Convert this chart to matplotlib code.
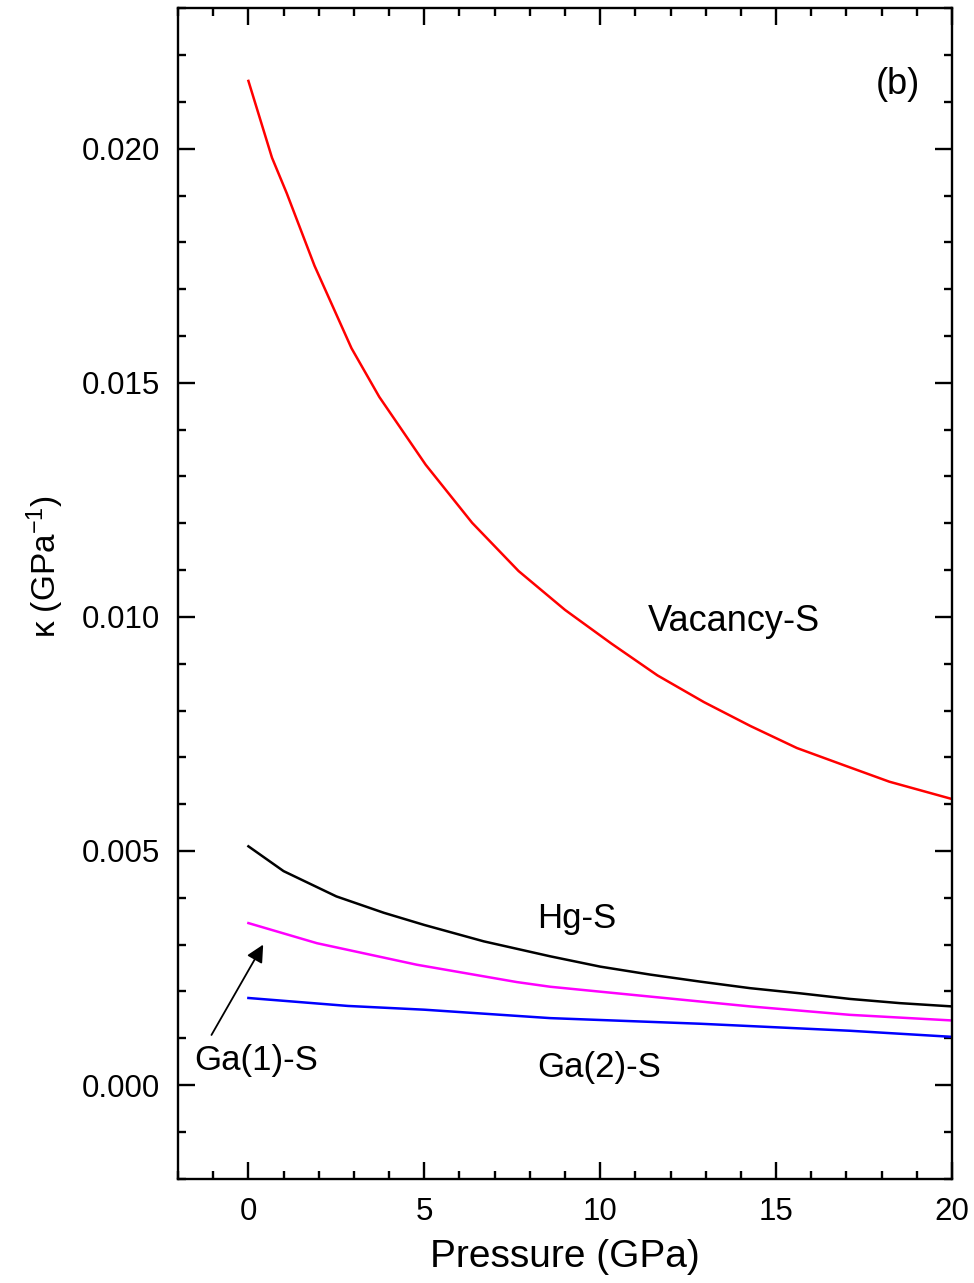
import matplotlib
matplotlib.use("Agg")
import matplotlib.pyplot as plt
from matplotlib.ticker import MultipleLocator, FormatStrFormatter

plt.rcParams['font.family'] = ['Liberation Sans', 'DejaVu Sans']
plt.rcParams['mathtext.fontset'] = 'custom'
plt.rcParams['mathtext.rm'] = 'Liberation Sans'
plt.rcParams['mathtext.it'] = 'Liberation Sans:italic'
plt.rcParams['mathtext.bf'] = 'Liberation Sans:bold'

# Data
p_vac = [0, 0.67, 1.09, 1.88, 2.93, 3.72, 5.04, 6.36, 7.68, 9.0, 10.32, 11.63, 12.95,
         14.27, 15.59, 16.9, 18.22, 20]
k_vac = [0.02145, 0.01981, 0.01905, 0.01750, 0.01574, 0.01470, 0.01325, 0.01201, 0.01098,
         0.01015, 0.00943, 0.00875, 0.00818, 0.00767, 0.00720, 0.00684, 0.00648, 0.00611]

p_hg = [0, 1.0, 2.5, 3.85, 5, 6.69, 8.58, 10, 11.42, 12.84, 14.26, 15.68, 17.1, 18.52, 20]
k_hg = [0.00510, 0.00457, 0.00403, 0.00368, 0.00342, 0.00307, 0.00275, 0.00253,
        0.00236, 0.00221, 0.00207, 0.00196, 0.00184, 0.00175, 0.00168]

p_ga1 = [0, 1.95, 4.79, 7.63, 8.58, 11.42, 14.26, 17.1, 20]
k_ga1 = [0.00346, 0.00303, 0.00257, 0.00220, 0.00210, 0.00189, 0.00168, 0.00150, 0.00138]

p_ga2 = [0, 2.83, 5, 8.58, 12.84, 17.1, 20]
k_ga2 = [0.00186, 0.00169, 0.00161, 0.00143, 0.00131, 0.00116, 0.00103]

fig = plt.figure(figsize=(9.74, 12.83), dpi=100)
ax = fig.add_axes([0.1828, 0.0813, 0.7946, 0.9122])

lw = 1.8
ax.plot(p_vac, k_vac, color='#ff0000', lw=lw)
ax.plot(p_hg, k_hg, color='#000000', lw=lw)
ax.plot(p_ga1, k_ga1, color='#ff00ff', lw=lw)
ax.plot(p_ga2, k_ga2, color='#0000ff', lw=lw)

ax.set_xlim(-2, 20)
ax.set_ylim(-0.002, 0.023)

ax.xaxis.set_major_locator(MultipleLocator(5))
ax.xaxis.set_minor_locator(MultipleLocator(1))
ax.yaxis.set_major_locator(MultipleLocator(0.005))
ax.yaxis.set_minor_locator(MultipleLocator(0.001))
ax.yaxis.set_major_formatter(FormatStrFormatter('%.3f'))

ax.tick_params(which='both', direction='in', top=True, right=True, width=1.7,
               labelsize=22.5, pad=13)
ax.tick_params(which='major', length=12)
ax.tick_params(which='minor', length=6)
for s in ax.spines.values():
    s.set_linewidth(1.7)

ax.set_xlabel('Pressure (GPa)', fontsize=28, labelpad=9)
ax.set_ylabel('κ (GPa$^{-1}$)', fontsize=24)
ax.yaxis.set_label_coords(-0.145, 0.523)

ax.text(18.46, 0.02116, '(b)', fontsize=26, ha='center', va='baseline')
ax.text(13.8, 0.00969, 'Vacancy-S', fontsize=26, ha='center', va='baseline')
ax.text(9.32, 0.00336, 'Hg-S', fontsize=25, ha='center', va='baseline')
ax.text(9.97, 0.00017, 'Ga(2)-S', fontsize=25, ha='center', va='baseline')
ax.text(0.21, 0.00032, 'Ga(1)-S', fontsize=25, ha='center', va='baseline')
ax.annotate('', xy=(0.42, 0.0030), xytext=(-1.05, 0.00107),
            arrowprops=dict(arrowstyle='-|>', color='black', lw=1.3,
                            mutation_scale=26, shrinkA=0, shrinkB=0))

fig.savefig('out.png', dpi=100)
